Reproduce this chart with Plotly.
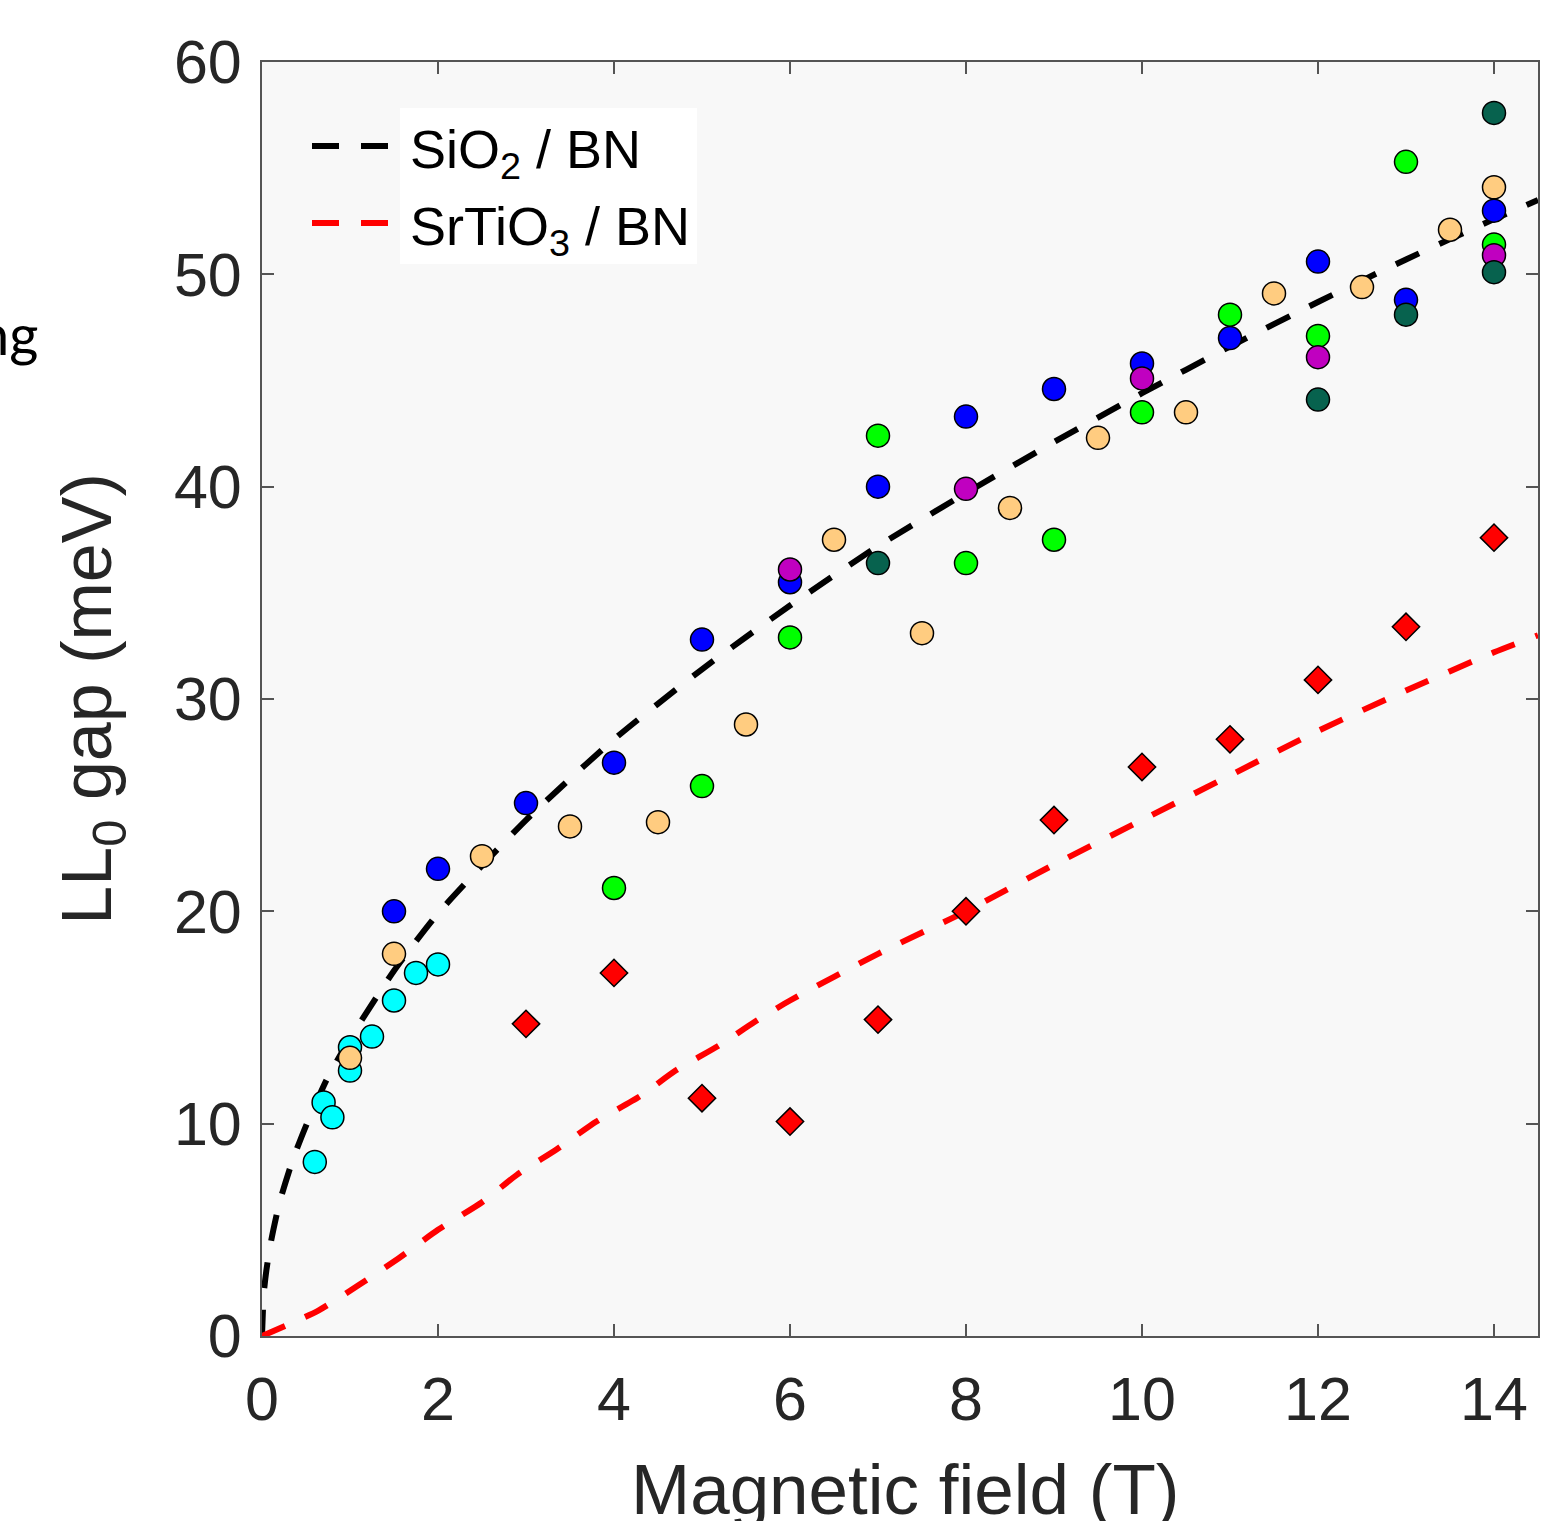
import plotly.graph_objects as go

# ---------------- data ----------------
cyan_B = [0.6, 0.7, 0.8, 1.0, 1.0, 1.25, 1.5, 1.75, 2.0]
cyan_gap = [8.2, 11.0, 10.3, 13.6, 12.5, 14.1, 15.8, 17.1, 17.5]

tan_B = [1.0, 1.5, 2.5, 3.5, 4.5, 5.5, 6.5, 7.5, 8.5, 9.5, 10.5, 11.5, 12.5, 13.5, 14.0]
tan_gap = [13.1, 18.0, 22.6, 24.0, 24.2, 28.8, 37.5, 33.1, 39.0, 42.3, 43.5, 49.1, 49.4, 52.1, 54.1]

blue_B = [1.5, 2, 3, 4, 5, 6, 7, 8, 9, 10, 11, 12, 13, 14]
blue_gap = [20.0, 22.0, 25.1, 27.0, 32.8, 35.5, 40.0, 43.3, 44.6, 45.8, 47.0, 50.6, 48.8, 53.0]

green_B = [4, 5, 6, 7, 8, 9, 10, 11, 12, 13, 14]
green_gap = [21.1, 25.9, 32.9, 42.4, 36.4, 37.5, 43.5, 48.1, 47.1, 55.3, 51.4]

magenta_B = [6, 8, 10, 12, 14]
magenta_gap = [36.1, 39.9, 45.1, 46.1, 50.9]

dkgreen_B = [7, 12, 13, 14, 14]
dkgreen_gap = [36.4, 44.1, 48.1, 57.6, 50.1]

sto_B = [3, 4, 5, 6, 7, 8, 9, 10, 11, 12, 13, 14]
sto_gap = [14.7, 17.1, 11.2, 10.1, 14.9, 20.0, 24.3, 26.8, 28.1, 30.9, 33.4, 37.6]

# fitted curves
sio2_fit_B = [0, 0.02, 0.05, 0.1, 0.2, 0.35, 0.5, 0.75, 1, 1.5, 2, 3, 4, 5, 6, 7, 8,
              9, 10, 11, 12, 13, 14, 14.5]
sio2_fit_gap = [0, 2.0, 3.1, 4.4, 6.3, 8.3, 9.9, 12.2, 14.0, 17.2, 19.9, 24.3, 28.1,
                31.4, 34.4, 37.2, 39.7, 42.1, 44.4, 46.6, 48.7, 50.7, 52.6, 53.5]

sto_fit_B = [0, 0.64, 1.1, 1.55, 2.0, 2.5, 2.9, 3.35, 3.8, 4.3, 4.7, 5.2, 5.6, 6, 7,
             8, 9, 10, 11, 12, 13, 14, 14.5]
sto_fit_gap = [0, 1.2, 2.4, 3.65, 5.0, 6.3, 7.6, 8.8, 10.1, 11.3, 12.5, 13.7, 14.8,
               15.8, 18.0, 20.0, 22.2, 24.3, 26.4, 28.5, 30.4, 32.2, 33.0]

x_ticks = [0, 2, 4, 6, 8, 10, 12, 14]
y_ticks = [0, 10, 20, 30, 40, 50, 60]

legend_labels = ["SiO<sub>2</sub> / BN", "SrTiO<sub>3</sub> / BN"]
x_title = "Magnetic field (T)"
y_title = "LL<sub>0</sub> gap (meV)"

# ---------------- layout constants ----------------
W, H = 1563, 1521
ML, MR, MT, MB = 262, 25, 62, 185
PW, PH = W - ML - MR, H - MT - MB


def px(xp):
    return (xp - ML) / PW


def py(yp):
    return (MT + PH - yp) / PH


FONT = "Liberation Sans, Arial, Helvetica, sans-serif"
TXT = "#262626"
AX = "#555555"

fig = go.Figure()

fig.add_trace(go.Scatter(x=sio2_fit_B, y=sio2_fit_gap, mode="lines",
                         line=dict(color="black", width=6, dash="26px,22px",
                                   shape="spline", smoothing=0.6),
                         showlegend=False, hoverinfo="skip"))
fig.add_trace(go.Scatter(x=sto_fit_B, y=sto_fit_gap, mode="lines",
                         line=dict(color="#FF0000", width=6, dash="25px,22px",
                                   shape="spline", smoothing=0.6),
                         showlegend=False, hoverinfo="skip"))

circle_series = [
    (cyan_B, cyan_gap, "#00FFFF"),
    (tan_B, tan_gap, "#FFCC80"),
    (blue_B, blue_gap, "#0000FF"),
    (green_B, green_gap, "#00FF00"),
    (magenta_B, magenta_gap, "#C000C0"),
    (dkgreen_B, dkgreen_gap, "#07624E"),
]
for xs, ys, col in circle_series:
    fig.add_trace(go.Scatter(x=xs, y=ys, mode="markers",
                             marker=dict(symbol="circle", size=23, color=col,
                                         line=dict(color="black", width=1.5)),
                             showlegend=False))

fig.add_trace(go.Scatter(x=sto_B, y=sto_gap, mode="markers",
                         marker=dict(symbol="diamond", size=21, color="#FF0000",
                                     line=dict(color="black", width=1.5)),
                         showlegend=False))

# ---------------- legend (drawn manually to match the original look) ----------------
shapes = [
    dict(type="rect", xref="paper", yref="paper", x0=px(400), x1=px(697),
         y0=py(264), y1=py(108), fillcolor="white", line=dict(width=0), layer="above"),
    dict(type="line", xref="paper", yref="paper", x0=px(312), x1=px(388),
         y0=py(146), y1=py(146), line=dict(color="black", width=6, dash="27px,22px"),
         layer="above"),
    dict(type="line", xref="paper", yref="paper", x0=px(312), x1=px(388),
         y0=py(223), y1=py(223), line=dict(color="#FF0000", width=6, dash="27px,22px"),
         layer="above"),
]
annotations = [
    dict(text=legend_labels[0], xref="paper", yref="paper", x=px(408), y=py(153),
         xanchor="left", yanchor="middle", showarrow=False,
         font=dict(family=FONT, size=54, color="black")),
    dict(text=legend_labels[1], xref="paper", yref="paper", x=px(408), y=py(230),
         xanchor="left", yanchor="middle", showarrow=False,
         font=dict(family=FONT, size=54, color="black")),
    dict(text="ng", xref="paper", yref="paper", x=px(40), y=py(334),
         xanchor="right", yanchor="middle", showarrow=False,
         font=dict(family="Lato, sans-serif", size=56, color="black")),
    # x-axis title: placed as text so it can run off the bottom edge like the original
    dict(text=x_title, xref="paper", yref="paper", x=px(905), y=py(1448),
         xanchor="center", yanchor="top", showarrow=False,
         font=dict(family=FONT, size=71, color=TXT)),
]

axis_common = dict(showline=True, linecolor=AX, linewidth=2, mirror="ticks",
                   ticks="inside", ticklen=12, tickwidth=1.5, tickcolor=AX,
                   showgrid=False, zeroline=False, automargin=False,
                   tickfont=dict(family=FONT, size=61, color=TXT))

fig.update_layout(
    width=W, height=H,
    margin=dict(l=ML, r=MR, t=MT, b=MB, pad=0, autoexpand=False),
    paper_bgcolor="white", plot_bgcolor="#F8F8F8",
    shapes=shapes, annotations=annotations,
    xaxis=dict(range=[0, 14.5], tickvals=x_ticks, ticklabelstandoff=9,
               **axis_common),
    yaxis=dict(range=[0, 60], tickvals=y_ticks, ticklabelstandoff=6,
               title=dict(text=y_title, standoff=39,
                          font=dict(family=FONT, size=70, color=TXT)),
               **axis_common),
)

# remove the default 8 px page margin so the figure fills the window exactly
fig.write_html("out.html", config={"displayModeBar": False},
               post_script="document.body.style.margin='0';")
